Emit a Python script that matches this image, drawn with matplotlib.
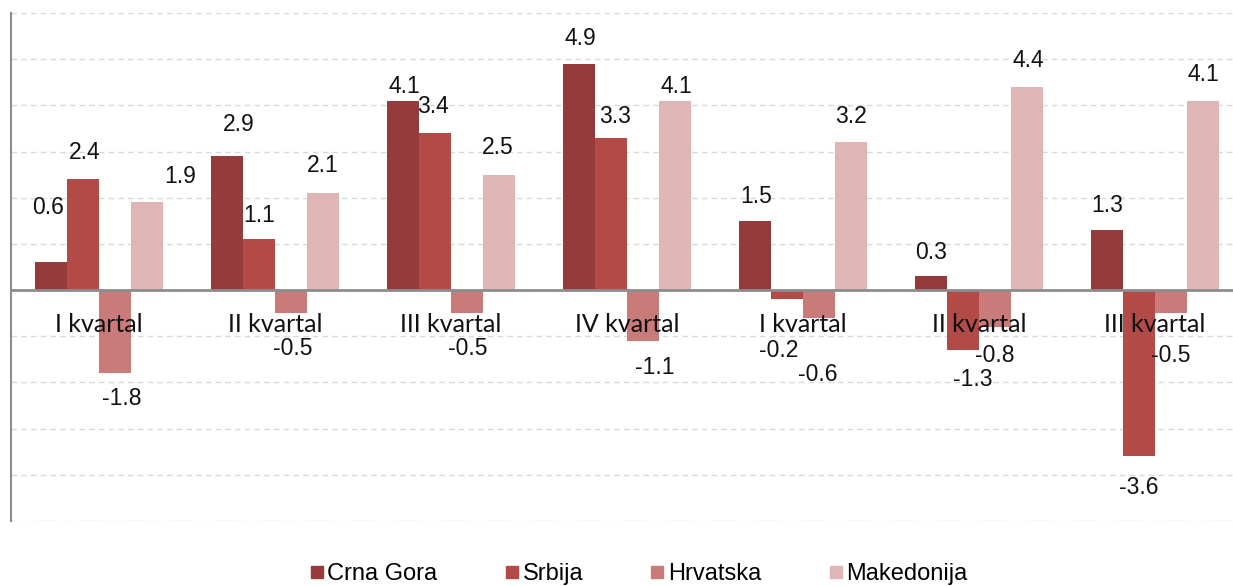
import matplotlib

matplotlib.use("Agg")
import matplotlib.pyplot as plt
from matplotlib.lines import Line2D
import numpy as np

# ---------------------------------------------------------------------------
# data
# ---------------------------------------------------------------------------
quarters = ["I kvartal", "II kvartal", "III kvartal", "IV kvartal",
            "I kvartal", "II kvartal", "III kvartal"]
countries = ["Crna Gora", "Srbija", "Hrvatska", "Makedonija"]

crna_gora = [0.6, 2.9, 4.1, 4.9, 1.5, 0.3, 1.3]
srbija = [2.4, 1.1, 3.4, 3.3, -0.2, -1.3, -3.6]
hrvatska = [-1.8, -0.5, -0.5, -1.1, -0.6, -0.8, -0.5]
makedonija = [1.9, 2.1, 2.5, 4.1, 3.2, 4.4, 4.1]

colors = ["#963b3b", "#b24a48", "#c97b79", "#dfb5b5"]

# label nudges (pixels, relative to bar end) -- hand placed like the original
label_dx = [
    [-3, 12, 1, 1, 1, 0, 0],
    [2, 0, -2, 4, -8, 10, 0],
    [7, 2, 1, 12, -1, 0, 0],
    [33, 0, -1, 1, 0, 1, 0],
]
label_dy = [
    [55, 32, 14, 25, 24, 24, 25],
    [27, 24, 27, 21, -51, -29, -31],
    [-25, -35, -35, -27, -57, -28, -42],
    [26, 28, 27, 14, 26, 26, 26],
]

series = [crna_gora, srbija, hrvatska, makedonija]

# ---------------------------------------------------------------------------
# figure
# ---------------------------------------------------------------------------
W, H = 1233, 586
fig = plt.figure(figsize=(W / 100, H / 100), dpi=100)
ax = fig.add_axes([11 / W, (H - 521) / H, (W - 11) / W, (521 - 13) / H])

x = np.arange(len(quarters))
bar_w = 32 / 176

for i, (vals, col) in enumerate(zip(series, colors)):
    pos = x + (i - 1.5) * bar_w
    ax.bar(pos, vals, width=bar_w, color=col, zorder=2, linewidth=0)
    for j, (px, v) in enumerate(zip(pos, vals)):
        ax.annotate(f"{v:.1f}", (px, v), xytext=(label_dx[i][j], label_dy[i][j]),
                    textcoords="offset pixels", ha="center", va="center",
                    fontsize=16.5, family="Liberation Sans", color="#111111",
                    zorder=4)

# category labels sit just under the zero line
for j, q in enumerate(quarters):
    ax.text(x[j], -0.75, q, ha="center", va="center", fontsize=18,
            family="Lato", color="#111111", zorder=5)

ax.set_xlim(-0.5, -0.5 + (W - 11) / 176)
ax.set_ylim(-5, 6)
ax.set_yticks(np.arange(-5, 7, 1))
ax.set_xticks([])
ax.tick_params(axis="y", left=False, labelleft=False)
ax.yaxis.grid(True, color="#d9d9d9", linestyle=(0, (4, 3)), linewidth=1, zorder=0)
ax.set_axisbelow(True)
ax.axhline(0, color="#8c8c8c", linewidth=2, zorder=3)

for s in ["top", "right", "bottom"]:
    ax.spines[s].set_visible(False)
ax.spines["left"].set_color("#8c8c8c")
ax.spines["left"].set_linewidth(1.5)

handles = [Line2D([], [], marker="s", linestyle="none", markersize=9,
                  markerfacecolor=c, markeredgecolor=c) for c in colors]
fig.legend(handles, countries, loc="center", bbox_to_anchor=(638 / W, 1 - 574 / H),
           ncol=4, frameon=False, handletextpad=0.1, columnspacing=2.8,
           handlelength=0.7, borderpad=0,
           prop={"family": "Liberation Sans", "size": 17})

fig.savefig("out.png", dpi=100)
